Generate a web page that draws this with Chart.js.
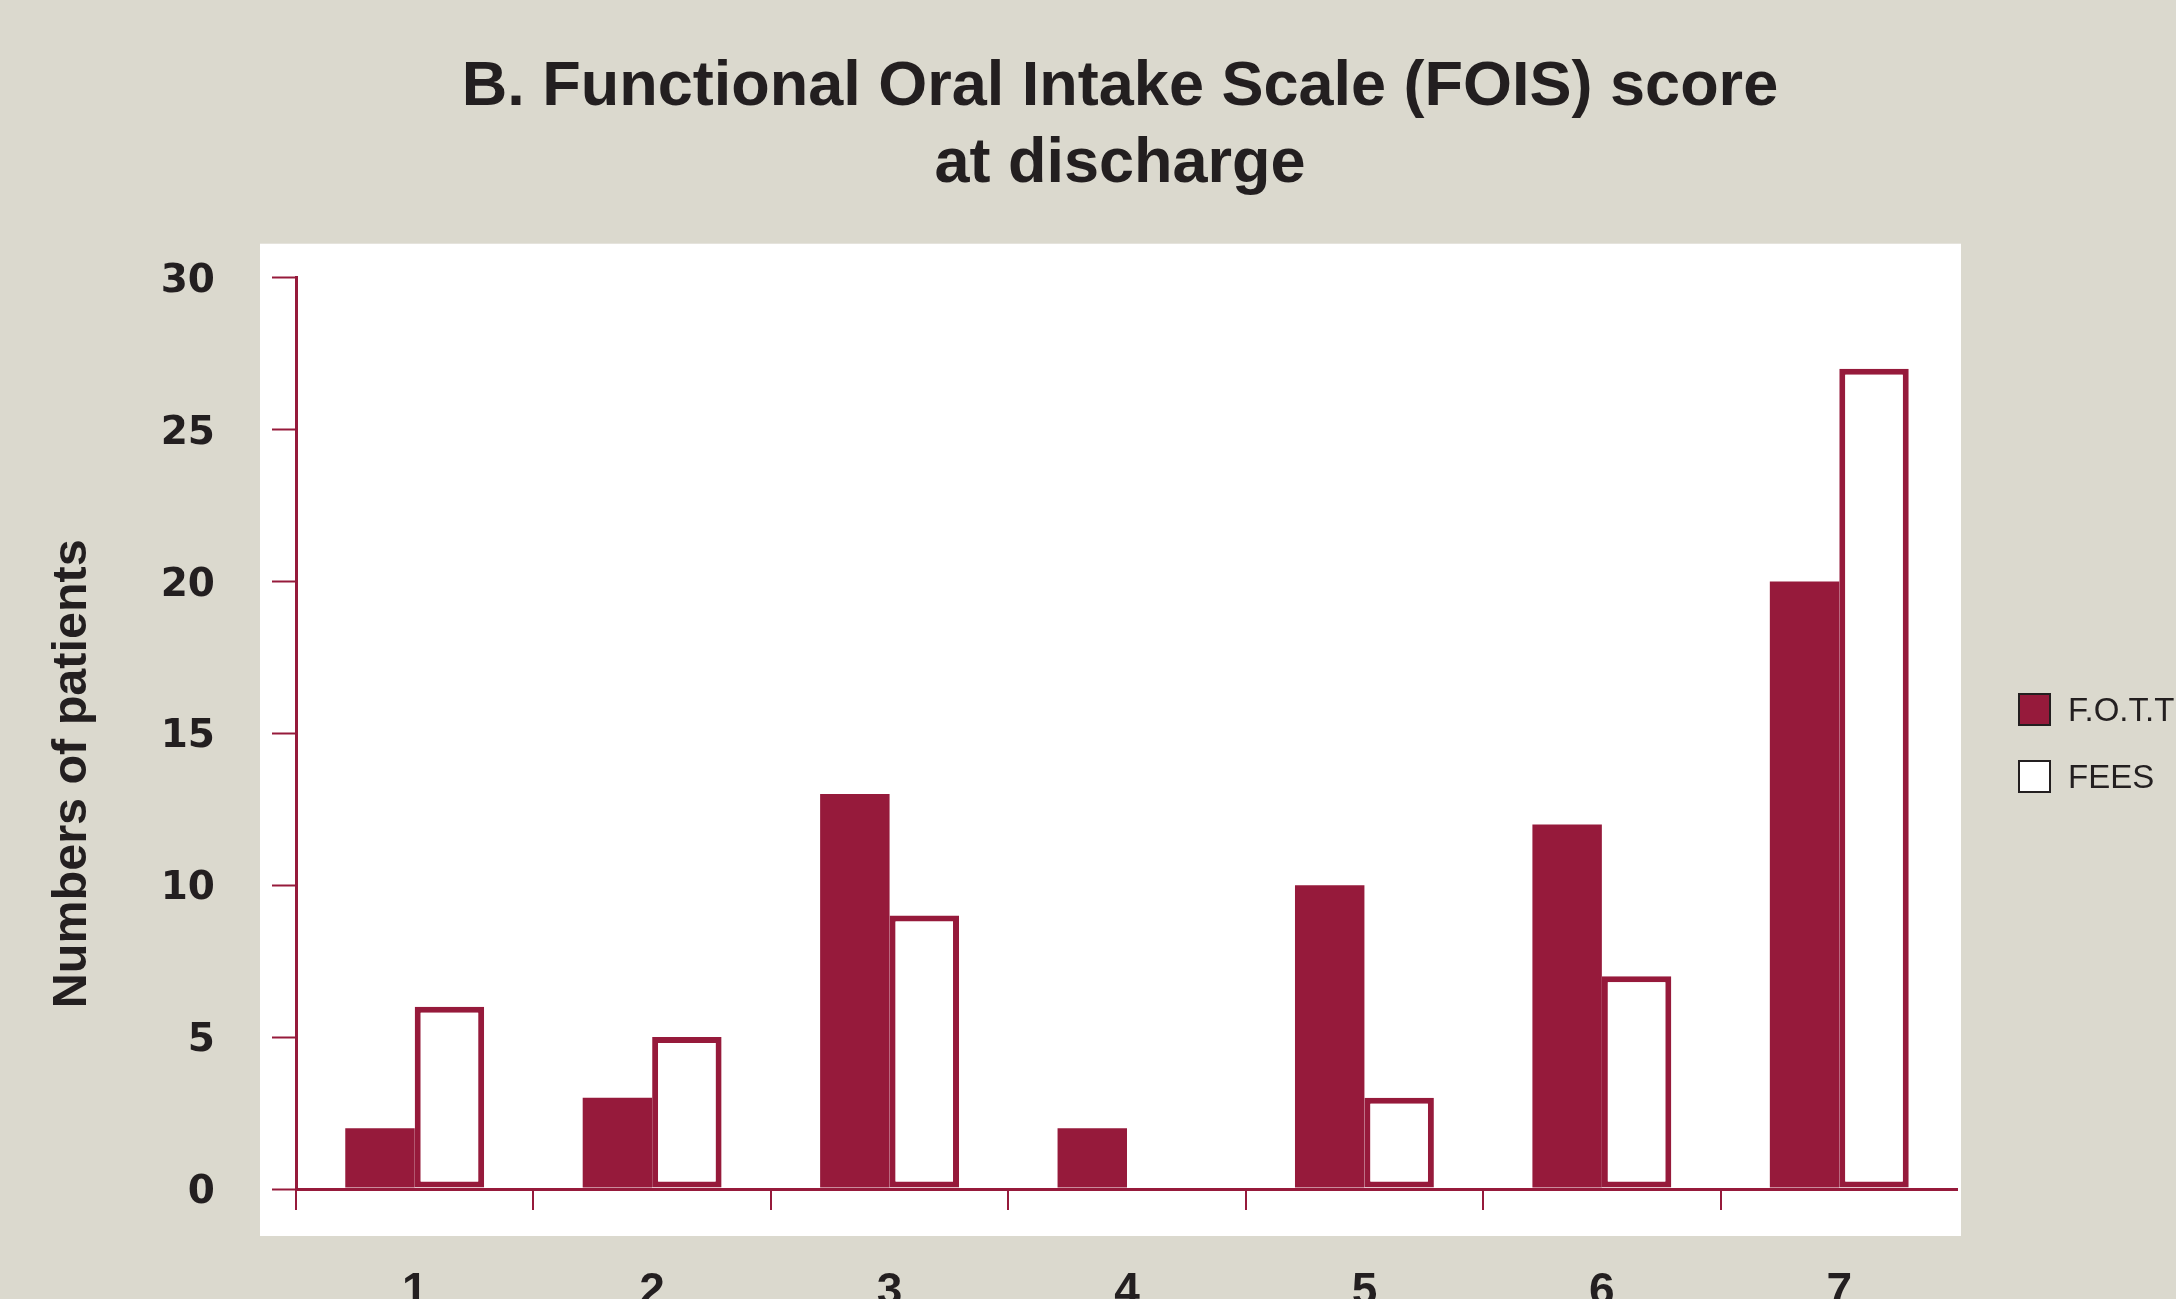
<!DOCTYPE html>
<html lang="en">
<head>
<meta charset="UTF-8">
<title>FOIS score at discharge</title>
<script src="https://cdn.jsdelivr.net/npm/chart.js"></script>
<style>
    body { margin: 0; background: #dbd9ce; overflow: hidden; }
    #wrap { position: relative; width: 2176px; height: 1299px; }
    #legend {
        position: absolute; left: 2018px; top: 676px;
        font-family: "Liberation Sans", Arial, sans-serif; font-size: 33px;
        color: #231f20; white-space: nowrap;
    }
    #legend .item { display: flex; align-items: center; height: 67px; }
    #legend .box { width: 33px; height: 33px; box-sizing: border-box; border: 2px solid #231f20; margin-right: 17px; }
</style>
</head>
<body>
<div id="wrap">
    <canvas id="myChart"></canvas>
    <div id="legend"></div>
</div>
<script>
const categories = ['1', '2', '3', '4', '5', '6', '7'];
const fottValues = [2, 3, 13, 2, 10, 12, 20];
const feesValues = [6, 5, 9, 0, 3, 7, 27];
const yMax = 30;
const yStep = 5;

const maroon = '#961a3b';
const ink = '#231f20';

// white panel behind the plot
const panelPlugin = {
    id: 'panel',
    beforeDraw(chart) {
        const a = chart.chartArea;
        const ctx = chart.ctx;
        ctx.save();
        ctx.fillStyle = '#ffffff';
        ctx.fillRect(a.left - 36, a.top - 34, a.right - a.left + 39, a.bottom - a.top + 81);
        ctx.restore();
    }
};

const data = {
    labels: categories,
    datasets: [{
        label: 'F.O.T.T',
        data: fottValues,
        backgroundColor: maroon,
        borderWidth: 0,
        categoryPercentage: 0.585,
        barPercentage: 1.0
    }, {
        label: 'FEES',
        data: feesValues,
        backgroundColor: '#ffffff',
        borderColor: maroon,
        borderWidth: 6,
        borderSkipped: false,
        categoryPercentage: 0.585,
        barPercentage: 1.0
    }]
};

const config = {
    type: 'bar',
    data: data,
    plugins: [panelPlugin],
    options: {
        responsive: true,
        maintainAspectRatio: false,
        animation: false,
        layout: { padding: { top: 0, right: 0, bottom: 0, left: 64 } },
        plugins: {
            legend: { display: false },
            tooltip: { enabled: false },
            title: {
                display: true,
                text: ['B. Functional Oral Intake Scale (FOIS) score', 'at discharge'],
                color: ink,
                font: { family: '"Liberation Sans", Arial, sans-serif', size: 63, weight: 'bold', lineHeight: 1.22 },
                padding: { top: 49, bottom: 75 }
            }
        },
        scales: {
            x: {
                border: { display: false },
                grid: {
                    drawOnChartArea: false,
                    tickLength: 21,
                    lineWidth: 2,
                    // no tick after the last category
                    color: (c) => c.type === 'tick' ? maroon : 'rgba(0,0,0,0)'
                },
                ticks: {
                    color: ink,
                    padding: 55,
                    font: { family: '"Liberation Sans", Arial, sans-serif', size: 46, weight: 'bold' }
                },
                afterFit(s) { s.height = 110; }
            },
            y: {
                min: 0,
                max: yMax,
                border: { display: true, color: maroon, width: 3 },
                grid: {
                    tickLength: 24,
                    lineWidth: 3,
                    tickWidth: 2,
                    tickColor: maroon,
                    color: (c) => c.tick && c.tick.value === 0 ? maroon : 'rgba(0,0,0,0)'
                },
                ticks: {
                    stepSize: yStep,
                    color: ink,
                    padding: 57,
                    labelOffset: 4,
                    font: { family: '"DejaVu Sans", sans-serif', size: 39, weight: 'bold' }
                },
                title: {
                    display: true,
                    text: 'Numbers of patients\u00a0\u00a0\u00a0\u00a0\u00a0\u00a0',
                    color: ink,
                    padding: 0,
                    font: { family: '"Liberation Sans", Arial, sans-serif', size: 48.5, weight: 'bold', lineHeight: 0.35 }
                },
                afterFit(s) { s.width = 232; }
            },
            spacer: {
                type: 'linear',
                position: 'right',
                display: true,
                border: { display: false },
                grid: { display: false },
                ticks: { display: false },
                afterFit(s) { s.width = 218; }
            }
        }
    }
};

const myChart = new Chart(document.getElementById('myChart'), config);

// legend built from the datasets
const legendBox = document.getElementById('legend');
myChart.data.datasets.forEach(ds => {
    const item = document.createElement('div');
    item.className = 'item';
    const box = document.createElement('span');
    box.className = 'box';
    box.style.background = ds.backgroundColor;
    const txt = document.createElement('span');
    txt.textContent = ds.label;
    item.appendChild(box);
    item.appendChild(txt);
    legendBox.appendChild(item);
});
</script>
</body>
</html>
